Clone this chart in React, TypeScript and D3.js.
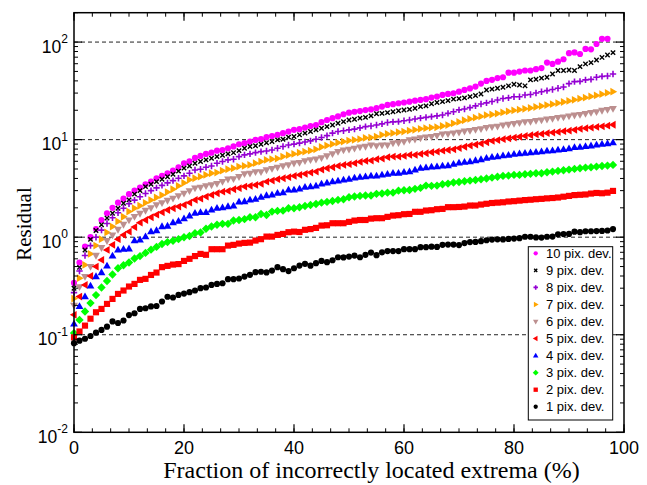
import React from "react";
import * as d3 from "d3";

// Fraction of incorrectly located extrema (%) – one point per percent
const FRACTION = d3.range(0, 99);

const PIX1 = [0.082,0.087,0.091,0.097,0.105,0.112,0.121,0.137,0.132,0.140,
 0.159,0.166,0.184,0.187,0.195,0.197,0.219,0.245,0.241,0.256,
 0.264,0.273,0.284,0.300,0.305,0.324,0.332,0.337,0.371,0.371,
 0.377,0.395,0.411,0.438,0.442,0.435,0.455,0.493,0.470,0.449,
 0.480,0.512,0.533,0.510,0.541,0.571,0.555,0.580,0.623,0.620,
 0.633,0.648,0.623,0.660,0.696,0.654,0.700,0.720,0.720,0.720,
 0.753,0.753,0.753,0.790,0.790,0.800,0.795,0.834,0.840,0.840,
 0.830,0.870,0.890,0.895,0.910,0.930,0.945,0.950,0.948,0.960,
 0.968,0.977,1.010,1.010,0.995,0.990,1.010,1.015,1.070,1.075,
 1.080,1.140,1.125,1.150,1.150,1.155,1.160,1.170,1.210];

const PIX2 = [0.094,0.108,0.124,0.146,0.170,0.184,0.207,0.233,0.262,0.284,
 0.312,0.332,0.365,0.374,0.410,0.434,0.493,0.508,0.524,0.530,
 0.571,0.600,0.640,0.674,0.660,0.753,0.753,0.753,0.820,0.834,
 0.860,0.874,0.880,0.923,0.954,1.014,1.014,1.055,1.080,1.125,
 1.140,1.130,1.190,1.210,1.245,1.315,1.325,1.390,1.390,1.390,
 1.435,1.480,1.500,1.500,1.550,1.565,1.565,1.615,1.665,1.680,
 1.720,1.730,1.820,1.820,1.875,1.890,1.935,1.950,2.030,2.030,
 2.040,2.060,2.110,2.110,2.160,2.200,2.240,2.260,2.280,2.320,
 2.340,2.370,2.400,2.420,2.450,2.470,2.500,2.520,2.550,2.600,
 2.650,2.700,2.720,2.740,2.800,2.840,2.820,2.860,2.980];

const PIX3 = [0.104,0.142,0.173,0.211,0.255,0.305,0.355,0.415,0.480,0.515,
 0.550,0.605,0.640,0.690,0.745,0.795,0.850,0.890,0.920,0.955,
 1.000,1.030,1.100,1.115,1.220,1.285,1.340,1.370,1.370,1.480,
 1.500,1.530,1.600,1.600,1.730,1.690,1.830,1.860,1.870,1.980,
 1.980,2.030,2.090,2.140,2.190,2.260,2.300,2.350,2.410,2.450,
 2.570,2.610,2.650,2.670,2.670,2.780,2.800,2.860,2.860,3.000,
 3.030,3.050,3.130,3.200,3.380,3.360,3.380,3.490,3.540,3.630,
 3.680,3.740,3.800,3.850,3.930,4.000,4.080,4.170,4.250,4.280,
 4.350,4.350,4.420,4.460,4.520,4.520,4.630,4.700,4.780,4.860,
 4.930,5.010,5.090,5.170,5.210,5.290,5.370,5.420,5.510];

const PIX4 = [0.129,0.195,0.246,0.317,0.395,0.434,0.508,0.643,0.741,0.753,
 0.760,0.923,0.938,1.014,1.140,1.170,1.285,1.300,1.410,1.460,
 1.550,1.650,1.760,1.790,1.790,1.900,1.980,2.010,2.060,2.090,
 2.300,2.320,2.410,2.450,2.570,2.670,2.710,2.820,2.860,3.050,
 3.050,3.130,3.250,3.300,3.360,3.520,3.600,3.710,3.770,3.870,
 3.930,4.050,4.120,4.170,4.250,4.250,4.350,4.420,4.520,4.520,
 4.630,4.700,4.890,5.090,5.170,5.250,5.290,5.370,5.420,5.600,
 5.770,5.860,5.950,6.100,6.250,6.450,6.610,6.700,6.860,6.920,
 7.090,7.190,7.250,7.350,7.420,7.530,7.650,7.710,7.830,7.950,
 8.070,8.310,8.380,8.510,8.640,8.810,8.970,9.100,9.300];

const PIX5 = [0.160,0.246,0.324,0.400,0.500,0.585,0.740,0.835,0.954,1.055,
 1.140,1.270,1.410,1.500,1.600,1.700,1.800,1.900,1.980,2.060,
 2.140,2.260,2.410,2.480,2.610,2.710,2.820,2.930,2.980,3.100,
 3.180,3.300,3.360,3.430,3.520,3.710,3.800,3.930,4.020,4.120,
 4.250,4.350,4.460,4.590,4.700,4.930,5.090,5.210,5.370,5.510,
 5.600,5.730,5.910,6.050,6.100,6.300,6.390,6.610,6.700,6.700,
 6.810,6.970,6.970,7.140,7.250,7.420,7.530,7.710,7.830,7.950,
 8.200,8.450,8.700,8.900,9.100,9.400,9.700,9.900,10.10,10.30,
 10.50,10.70,10.90,11.10,11.30,11.45,11.65,11.80,12.00,12.20,
 12.35,12.60,12.90,13.10,13.30,13.50,13.70,13.90,14.20];

const PIX6 = [0.200,0.310,0.395,0.500,0.650,0.780,0.920,1.050,1.200,1.350,
 1.500,1.630,1.750,1.880,2.000,2.150,2.250,2.380,2.500,2.650,
 2.820,2.980,3.180,3.250,3.360,3.430,3.550,3.710,3.930,3.960,
 4.170,4.460,4.520,4.670,4.670,4.890,5.050,5.210,5.370,5.510,
 5.730,5.810,6.050,6.200,6.300,6.500,6.800,7.140,7.530,7.830,
 7.950,8.150,8.380,8.510,8.810,8.640,8.810,8.810,9.200,9.300,
 9.550,9.940,10.10,10.40,10.60,10.75,11.00,11.40,11.45,11.65,
 11.90,12.20,12.40,12.70,12.90,13.30,13.50,13.70,14.10,14.30,
 14.60,14.90,15.20,15.30,15.70,15.90,16.20,16.40,16.80,17.00,
 17.40,17.80,18.10,18.50,18.90,19.30,19.90,20.30,20.80];

const PIX7 = [0.235,0.380,0.520,0.674,0.820,0.954,1.120,1.285,1.450,1.620,
 1.830,1.980,2.100,2.250,2.400,2.550,2.700,2.900,3.100,3.350,
 3.600,3.870,4.020,4.170,4.350,4.520,4.590,4.810,4.970,5.090,
 5.290,5.370,5.510,5.730,5.960,6.200,6.300,6.390,6.700,6.920,
 7.140,7.350,7.530,7.710,7.950,8.400,8.700,9.000,9.300,9.550,
 9.780,9.940,10.10,10.40,10.50,10.75,11.20,11.45,11.65,11.90,
 12.10,12.35,12.60,12.90,13.10,13.30,13.40,13.80,14.10,14.70,
 15.20,15.80,16.30,16.80,17.30,17.80,18.10,18.50,19.00,19.50,
 19.90,20.30,20.70,21.10,21.60,22.10,22.60,23.10,23.70,24.30,
 24.90,25.60,26.30,26.90,27.70,28.40,29.20,30.10,31.00];

const PIX8 = [0.270,0.450,0.650,0.820,1.000,1.180,1.380,1.580,1.780,1.980,
 2.200,2.400,2.600,2.800,3.000,3.200,3.400,3.600,3.800,4.020,
 4.250,4.520,4.890,4.970,5.210,5.370,5.730,5.960,6.200,6.300,
 6.700,6.970,7.140,7.350,7.530,7.650,7.830,8.150,8.510,8.810,
 9.000,9.200,9.470,9.700,10.10,10.50,11.00,11.65,12.10,12.35,
 12.60,12.80,13.20,13.60,13.80,14.10,14.50,15.00,15.20,15.30,
 15.60,15.90,16.30,16.60,16.90,17.20,17.50,17.90,18.60,19.30,
 20.20,20.60,21.30,22.20,23.20,23.80,24.60,25.50,26.40,26.80,
 27.50,27.50,28.70,29.00,30.10,31.00,31.80,32.70,33.60,34.60,
 37.50,39.30,39.50,41.00,41.50,43.60,44.50,44.90,47.10];

const PIX9 = [0.300,0.490,0.740,0.950,1.170,1.340,1.570,1.760,1.980,2.230,
 2.410,2.760,3.000,3.300,3.490,3.710,3.930,4.170,4.420,4.750,
 5.100,5.370,5.730,5.960,6.200,6.450,6.700,6.920,7.140,7.350,
 7.710,8.150,8.510,8.640,8.970,9.300,9.550,9.940,10.10,10.60,
 10.75,11.20,11.65,12.10,12.60,13.10,13.60,14.10,14.70,15.30,
 15.90,16.20,16.60,16.90,17.50,18.40,18.60,18.90,19.30,19.80,
 20.10,20.40,21.00,21.80,22.20,23.30,24.00,24.50,25.10,26.00,
 26.30,26.80,27.60,28.30,29.40,32.30,32.90,33.60,34.40,35.60,
 37.00,36.30,35.60,41.00,41.60,42.70,43.60,47.10,51.10,51.10,
 51.80,51.10,56.00,59.70,61.60,65.60,69.60,73.70,78.00];

const PIX10 = [0.340,0.550,0.800,1.000,1.210,1.500,1.760,2.000,2.260,2.480,
 2.760,3.000,3.220,3.490,3.710,4.020,4.250,4.520,4.810,5.200,
 5.700,6.000,6.500,6.810,7.140,7.350,7.710,7.830,8.150,8.510,
 8.970,9.200,9.550,9.940,10.10,10.60,10.90,11.20,11.65,12.10,
 12.60,12.80,13.30,13.80,14.10,15.10,15.90,16.60,17.30,18.20,
 18.90,19.30,19.60,20.10,20.40,21.00,21.80,22.70,23.10,23.60,
 24.00,24.50,25.10,25.50,26.00,27.00,27.60,28.70,29.40,29.90,
 31.00,32.30,33.50,35.00,37.50,40.00,41.00,42.70,43.60,48.60,
 48.60,49.80,51.10,51.10,52.80,54.10,61.60,59.70,63.00,66.70,
 77.00,78.30,75.50,85.00,84.30,95.60,108.0,108.0];

const LABELS = ["10 pix. dev.", "9 pix. dev.", "8 pix. dev.", "7 pix. dev.", "6 pix. dev.",
  "5 pix. dev.", "4 pix. dev.", "3 pix. dev.", "2 pix. dev.", "1 pix. dev."];
const VALUES = [PIX10, PIX9, PIX8, PIX7, PIX6, PIX5, PIX4, PIX3, PIX2, PIX1];
const COLORS = ["#ff00ff", "#000000", "#9400d3", "#ffa500", "#bc8f8f",
  "#ff0000", "#0000ff", "#00ff00", "#ff0000", "#000000"];
const SHAPES = ["circle", "x", "plus", "right", "down", "left", "up", "diamond", "square", "circle"];

const X_TICKS = [0, 20, 40, 60, 80, 100];
const Y_EXPONENTS = [-2, -1, 0, 1, 2];
const GRID_EXPONENTS = [-1, 0, 1, 2];

const W = 647, H = 485;
const L = 74, R = 624, T = 12.7, B = 432.3;

function markerPath(shape: string): string {
  switch (shape) {
    case "circle": return d3.symbol(d3.symbolCircle, 30)() as string;
    case "square": return d3.symbol(d3.symbolSquare, 38)() as string;
    case "diamond": return "M0,-4.2L4.2,0L0,4.2L-4.2,0Z";
    case "up": return "M0,-4.2L3.9,2.6L-3.9,2.6Z";
    case "down": return "M0,4.2L3.9,-2.6L-3.9,-2.6Z";
    case "left": return "M-4.2,0L2.6,-3.9L2.6,3.9Z";
    case "right": return "M4.2,0L-2.6,-3.9L-2.6,3.9Z";
    case "plus": return "M-3.2,0H3.2M0,-3.2V3.2";
    case "x": return "M-2.2,-2.2L2.2,2.2M-2.2,2.2L2.2,-2.2";
  }
  return "";
}

function Marker({ shape, color, tx, ty, k = 1 }: any) {
  const d = markerPath(shape);
  const stroked = shape === "plus" || shape === "x";
  return (
    <path
      d={d}
      transform={`translate(${tx},${ty}) scale(${k})`}
      fill={stroked ? "none" : color}
      stroke={stroked ? color : "none"}
      strokeWidth={stroked ? (shape === "x" ? 1.4 : 1.6) / k : 0}
    />
  );
}

export default function App() {
  const x = d3.scaleLinear().domain([0, 100]).range([L, R]);
  const y = d3.scaleLog().domain([0.01, 200]).range([B, T]);

  const xMinor = d3.range(0, 100.001, 20 / 6);
  const yMinor: number[] = [];
  for (let e = -2; e <= 2; e++) {
    for (let m = 2; m <= 9; m++) {
      const v = m * Math.pow(10, e);
      if (v <= 200) yMinor.push(v);
    }
  }

  const majorLen = 8, minorLen = 4;
  const tickFont = "'Liberation Sans', Arial, Helvetica, sans-serif";
  const serif = "'Liberation Serif', 'Times New Roman', serif";

  return (
    <svg width={W} height={H} style={{ position: "absolute", left: 0, top: 0, background: "#fff" }}>
      <rect x={0} y={0} width={W} height={H} fill="#fff" />
      {/* grid lines */}
      {GRID_EXPONENTS.map((e) => (
        <line key={"g" + e} x1={L} x2={R} y1={y(Math.pow(10, e))} y2={y(Math.pow(10, e))}
          stroke="#222" strokeWidth={1} strokeDasharray="4,3" />
      ))}
      {/* series */}
      {VALUES.map((vals, si) => (
        <g key={"s" + si}>
          {vals.map((v, i) => (
            <Marker key={i} shape={SHAPES[si]} color={COLORS[si]} tx={x(FRACTION[i])} ty={y(v)} />
          ))}
        </g>
      ))}
      {/* frame */}
      <rect x={L} y={T} width={R - L} height={B - T} fill="none" stroke="#000" strokeWidth={1.5} />
      {/* x ticks */}
      {xMinor.map((t, i) => (
        <g key={"xm" + i}>
          <line x1={x(t)} x2={x(t)} y1={B} y2={B - minorLen} stroke="#000" strokeWidth={1} />
          <line x1={x(t)} x2={x(t)} y1={T} y2={T + minorLen} stroke="#000" strokeWidth={1} />
        </g>
      ))}
      {X_TICKS.map((t) => (
        <g key={"xt" + t}>
          <line x1={x(t)} x2={x(t)} y1={B} y2={B - majorLen} stroke="#000" strokeWidth={1.2} />
          <line x1={x(t)} x2={x(t)} y1={T} y2={T + majorLen} stroke="#000" strokeWidth={1.2} />
          <text x={x(t)} y={454} textAnchor="middle" fontFamily={tickFont} fontSize={18}>{t}</text>
        </g>
      ))}
      {/* y ticks */}
      {yMinor.map((v, i) => (
        <g key={"ym" + i}>
          <line x1={L} x2={L + minorLen} y1={y(v)} y2={y(v)} stroke="#000" strokeWidth={1} />
          <line x1={R} x2={R - minorLen} y1={y(v)} y2={y(v)} stroke="#000" strokeWidth={1} />
        </g>
      ))}
      {Y_EXPONENTS.map((e) => {
        const yy = y(Math.pow(10, e));
        return (
          <g key={"yt" + e}>
            <line x1={L} x2={L + majorLen} y1={yy} y2={yy} stroke="#000" strokeWidth={1.2} />
            <line x1={R} x2={R - majorLen} y1={yy} y2={yy} stroke="#000" strokeWidth={1.2} />
            <text x={68} y={yy + 10.5} textAnchor="end" fontFamily={tickFont} fontSize={17.5}>
              10<tspan fontSize={12} dy={-9.5}>{e}</tspan>
            </text>
          </g>
        );
      })}
      {/* axis titles */}
      <text x={371.5} y={478} textAnchor="middle" fontFamily={serif} fontSize={24}>
        Fraction of incorrectly located extrema (%)
      </text>
      <text transform={`translate(31,224) rotate(-90)`} textAnchor="middle" fontFamily={serif} fontSize={21}>
        Residual
      </text>
      {/* legend */}
      <rect x={528.3} y={246.7} width={84.4} height={173.3} fill="#fff" stroke="#000" strokeWidth={1} />
      {LABELS.map((lab, i) => {
        const cy = 253.3 + i * 17.05;
        return (
          <g key={"l" + i}>
            <Marker shape={SHAPES[i]} color={COLORS[i]} tx={535.7} ty={cy} k={0.7} />
            <text x={546} y={cy + 4.6} fontFamily={tickFont} fontSize={13}>{lab}</text>
          </g>
        );
      })}
    </svg>
  );
}
